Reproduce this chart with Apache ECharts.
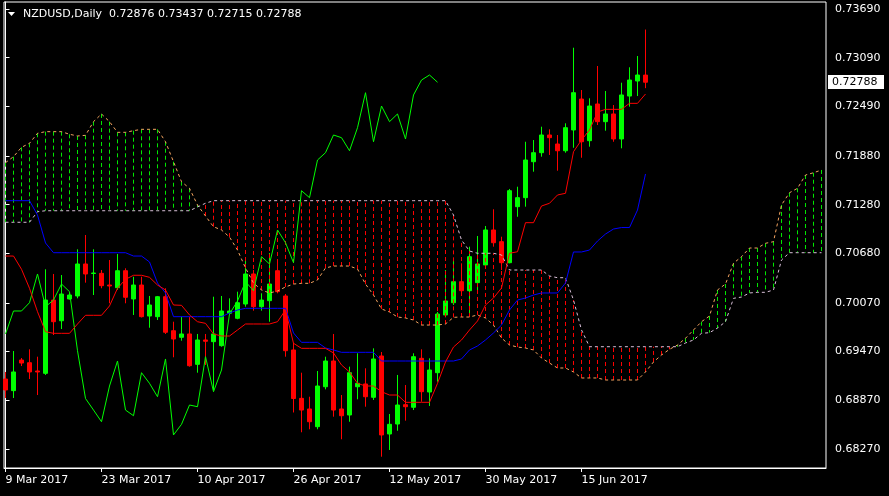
<!DOCTYPE html>
<html><head><meta charset="utf-8">
<script src="https://cdn.jsdelivr.net/npm/echarts@6/dist/echarts.min.js"></script>
<style>html,body{margin:0;padding:0;background:#000;}#c{width:889px;height:496px;}</style>
</head><body><div id="c"></div>
<script>
// ---- data (NZDUSD daily) ----
const openP  = [.69132,.68989,.69366,.69333,.69231,.69202,.70105,.69850,.70118,.70155,.70549,.70432,.70434,.70290,.70257,.70466,.70118,.70290,.69908,.69900,
.70146,.69727,.69646,.69687,.69313,.69613,.69592,.69543,.69942,.69880,.70056,.70426,.70023,.70097,.70466,.70155,.69490,.68894,.68763,.68545,
.69037,.69354,.68763,.68689,.69037,.69071,.68907,.69416,.68455,.68578,.68816,.68784,.69387,.68972,.69210,.69921,.70072,.70331,.70220,.70319,
.70537,.70968,.70824,.70565,.71255,.71366,.71809,.71920,.72138,.72027,.71944,.72200,.72581,.72068,.72520,.72302,.72397,.72089,.72618,.72803,.72876];
const highP  = [.69219,.69477,.69391,.69498,.69407,.70484,.70426,.70413,.70195,.70730,.70906,.70730,.70475,.70598,.70672,.70496,.70392,.70392,.70155,.70155,
.70250,.69838,.69900,.69900,.69687,.69687,.70146,.70155,.70126,.70208,.70619,.70475,.70188,.70684,.70598,.70179,.69576,.69210,.68914,.69231,
.69407,.69687,.68935,.69284,.69449,.69264,.69510,.69465,.68701,.69182,.69058,.69449,.69498,.69387,.69958,.70475,.70598,.70557,.70762,.70894,
.71017,.71223,.70885,.71473,.71501,.72055,.72076,.72240,.72208,.72138,.72282,.73213,.72692,.72590,.72988,.72680,.72507,.72782,.72972,.73111,.73437];
const lowP   = [.68898,.68898,.69292,.69132,.68935,.69182,.69674,.69748,.70112,.70126,.70319,.70167,.70250,.70065,.70229,.70065,.69921,.69890,.69764,.69859,
.69687,.69400,.69604,.69284,.69210,.69305,.68997,.69530,.69930,.69868,.70023,.69974,.69974,.69838,.70188,.69407,.68720,.68476,.68513,.68513,
.69005,.68668,.68390,.68606,.68882,.68791,.68874,.68175,.68258,.68495,.68619,.68750,.68853,.68800,.69099,.69892,.70044,.70155,.69942,.70192,
.70487,.70762,.70475,.70557,.71131,.71255,.71686,.71871,.71892,.71698,.71920,.71981,.71858,.71994,.72261,.72191,.72055,.71974,.72487,.72618,.72715];
const closeP = [.68997,.69219,.69329,.69219,.69219,.70105,.69838,.70179,.70167,.70549,.70426,.70438,.70282,.70278,.70466,.70139,.70290,.69900,.70044,.70146,
.69708,.69625,.69687,.69296,.69613,.69597,.69687,.69970,.69970,.70072,.70426,.70023,.70105,.70302,.70208,.69481,.68892,.68750,.68606,.69046,
.69354,.68750,.68680,.69210,.69079,.68914,.69379,.68443,.68574,.68812,.68791,.69407,.68976,.69243,.69933,.70093,.70331,.70220,.70639,.70549,
.70968,.70811,.70565,.71452,.71366,.71830,.71920,.72138,.72105,.71944,.72228,.72659,.72055,.72495,.72302,.72397,.72089,.72631,.72815,.72877,.72788];
// Ichimoku: Tenkan-sen (red), Kijun-sen (blue)
const tenkan = [.70647,.70647,.70484,.70250,.69961,.69715,.69695,.69695,.69695,.69810,.69917,.69917,.69917,.70032,.70250,.70360,.70410,.70410,.70385,.70290,
.70229,.70044,.70040,.69921,.69838,.69818,.69687,.69662,.69662,.69736,.69810,.69810,.69810,.69810,.69838,.69982,.69572,.69510,.69510,.69510,
.69510,.69453,.69305,.69219,.69079,.69046,.69046,.68976,.68935,.68935,.68845,.68845,.68845,.68845,.69079,.69342,.69526,.69613,.69736,.69847,
.70044,.70130,.70253,.70681,.70700,.71058,.71058,.71263,.71297,.71399,.71420,.71932,.72076,.72200,.72421,.72454,.72454,.72454,.72528,.72528,.72643];
const kijun = [.71329,.71329,.71329,.71329,.71152,.70808,.70688,.70688,.70688,.70688,.70688,.70688,.70688,.70688,.70688,.70688,.70647,.70647,.70574,.70315,
.70192,.69900,.69900,.69900,.69900,.69900,.69900,.69900,.69945,.69982,.70003,.70003,.70003,.70003,.70003,.70003,.69699,.69584,.69584,.69584,
.69514,.69490,.69461,.69461,.69461,.69461,.69461,.69354,.69354,.69354,.69354,.69354,.69354,.69354,.69354,.69354,.69354,.69379,.69490,.69539,
.69613,.69699,.69797,.69982,.70105,.70130,.70167,.70192,.70192,.70192,.70315,.70697,.70697,.70721,.70832,.70918,.70980,.70998,.70998,.71214,.71658];
// Senkou Span A (sandy brown) and B (thistle), already shifted forward
const spanA = [.71797,.71871,.71986,.72036,.72159,.72179,.72179,.72179,.72147,.72126,.72134,.72302,.72397,.72302,.72171,.72171,.72191,.72208,.72208,.72208,
.72055,.71809,.71563,.71481,.71276,.71140,.71008,.70968,.70881,.70721,.70500,.70315,.70229,.70192,.70216,.70266,.70302,.70311,.70311,.70352,
.70500,.70524,.70524,.70524,.70487,.70302,.70167,.69995,.69958,.69896,.69884,.69859,.69797,.69797,.69797,.69810,.69892,.69896,.69896,.69921,
.69884,.69797,.69637,.69551,.69526,.69514,.69490,.69391,.69329,.69268,.69268,.69219,.69145,.69145,.69145,.69120,.69120,.69120,.69120,.69120,
.69219,.69342,.69428,.69498,.69551,.69634,.69736,.69838,.69908,.70229,.70302,.70558,.70639,.70746,.70746,.70804,.70824,.71276,.71427,.71481,
.71645,.71673,.71707];
const spanB = [.71063,.71063,.71063,.71063,.71193,.71205,.71205,.71205,.71205,.71205,.71205,.71205,.71205,.71205,.71205,.71205,.71205,.71205,.71205,.71205,
.71205,.71205,.71205,.71205,.71251,.71297,.71329,.71329,.71329,.71329,.71329,.71329,.71329,.71329,.71329,.71329,.71329,.71329,.71329,.71329,
.71329,.71329,.71329,.71329,.71329,.71329,.71329,.71329,.71329,.71329,.71329,.71329,.71329,.71329,.71329,.71329,.71152,.70844,.70709,.70681,
.70681,.70681,.70660,.70475,.70475,.70475,.70475,.70475,.70401,.70380,.70380,.70105,.69736,.69530,.69530,.69530,.69530,.69530,.69530,.69530,
.69530,.69530,.69530,.69530,.69530,.69576,.69613,.69695,.69703,.69760,.69838,.70126,.70142,.70192,.70200,.70200,.70229,.70598,.70688,.70688,
.70688,.70688,.70688];
const chikouShift = 26;
const priceTicks = [0.6827,0.6887,0.6947,0.7007,0.7068,0.7128,0.7188,0.7249,0.7309,0.7369];
const dateTickIdx = [0,12,24,36,48,60,72];
const dateTickLabels = ['9 Mar 2017','23 Mar 2017','10 Apr 2017','26 Apr 2017','12 May 2017','30 May 2017','15 Jun 2017'];
const titleText = 'NZDUSD,Daily  0.72876 0.73437 0.72715 0.72788';

// ---- build series data ----
const candles = openP.map((o,i)=>[i,o,closeP[i],lowP[i],highP[i]]);
const tenkanData = tenkan.map((v,i)=>[i,v]);
const kijunData = kijun.map((v,i)=>[i,v]);
const chikouData = closeP.slice(chikouShift).map((v,i)=>[i,v]);
const spanAData = spanA.map((v,i)=>[i,v]);
const spanBData = spanB.map((v,i)=>[i,v]);
const hatchData = spanA.map((v,i)=>[i,v,spanB[i]]);
const last = closeP[closeP.length-1];

const FONT = 'DejaVu Sans';
const chart = echarts.init(document.getElementById('c'), null, {renderer:'canvas'});
chart.setOption({
  animation:false,
  backgroundColor:'#000',
  grid:{left:4,right:63,top:2,bottom:28,show:true,borderColor:'#ffffff',borderWidth:1,backgroundColor:'#000'},
  xAxis:{type:'value',min:-0.1875,max:102.5625,splitLine:{show:false},
    axisLine:{show:true,onZero:false,lineStyle:{color:'#fff'}},
    axisTick:{show:true,length:4,lineStyle:{color:'#fff'},customValues:dateTickIdx},
    axisLabel:{customValues:dateTickIdx,color:'#fff',fontFamily:FONT,fontSize:11,align:'left',margin:7,
      formatter:v=>dateTickLabels[dateTickIdx.indexOf(Math.round(v))]||''}},
  yAxis:{type:'value',position:'right',min:0.680360,max:0.737763,scale:true,splitLine:{show:false},
    axisLine:{show:true,lineStyle:{color:'#fff'}},
    axisTick:{show:true,length:4,lineStyle:{color:'#fff'},customValues:priceTicks},
    axisLabel:{customValues:priceTicks,color:'#fff',fontFamily:FONT,fontSize:11,margin:9,formatter:v=>v.toFixed(5)}},
  graphic:[
    {id:'tri',type:'polygon',shape:{points:[[8,12],[15,12],[11.5,16]]},style:{fill:'#fff'}},
    {id:'title',type:'text',x:23,y:14,style:{text:titleText,fill:'#fff',font:'11px "DejaVu Sans"',textVerticalAlign:'middle'}}
  ],
  series:[
    {type:'candlestick',data:candles,barWidth:4,z:1,
      itemStyle:{color:'#00ff00',color0:'#ff0000',borderColor:'#00ff00',borderColor0:'#ff0000',borderWidth:1}},
    {type:'custom',z:2,data:hatchData,clip:true,
      renderItem:(params,api)=>{
        const k=api.value(0),a=api.value(1),b=api.value(2);
        const p1=api.coord([k,a]),p2=api.coord([k,b]);
        return {type:'line',shape:{x1:p1[0],y1:p1[1],x2:p2[0],y2:p2[1]},
          style:{stroke:a>=b?'#00e800':'#ff0000',lineWidth:1,lineDash:[4,3]}};
      }},
    {type:'line',data:spanAData,z:3,symbol:'none',lineStyle:{color:'#f4a460',width:1,type:[3,3]}},
    {type:'line',data:spanBData,z:3,symbol:'none',lineStyle:{color:'#d8bfd8',width:1,type:[3,3]}},
    {type:'line',data:chikouData,z:4,symbol:'none',lineStyle:{color:'#00ff00',width:1}},
    {type:'line',data:kijunData,z:4,symbol:'none',lineStyle:{color:'#0000ff',width:1}},
    {type:'line',data:tenkanData,z:4,symbol:'none',lineStyle:{color:'#ff0000',width:1}}
  ]
});
// current price tag on the price scale, placed through the axis scale
const yPix = chart.convertToPixel({yAxisIndex:0}, last);
chart.setOption({graphic:[
  {id:'tagbox',type:'rect',shape:{x:828,y:Math.round(yPix)-7,width:56,height:14},style:{fill:'#fff'},z:10},
  {id:'tagtxt',type:'text',x:832,y:Math.round(yPix),style:{text:last.toFixed(5),fill:'#000',font:'11px "DejaVu Sans"',textVerticalAlign:'middle'},z:11}
]});
</script></body></html>
